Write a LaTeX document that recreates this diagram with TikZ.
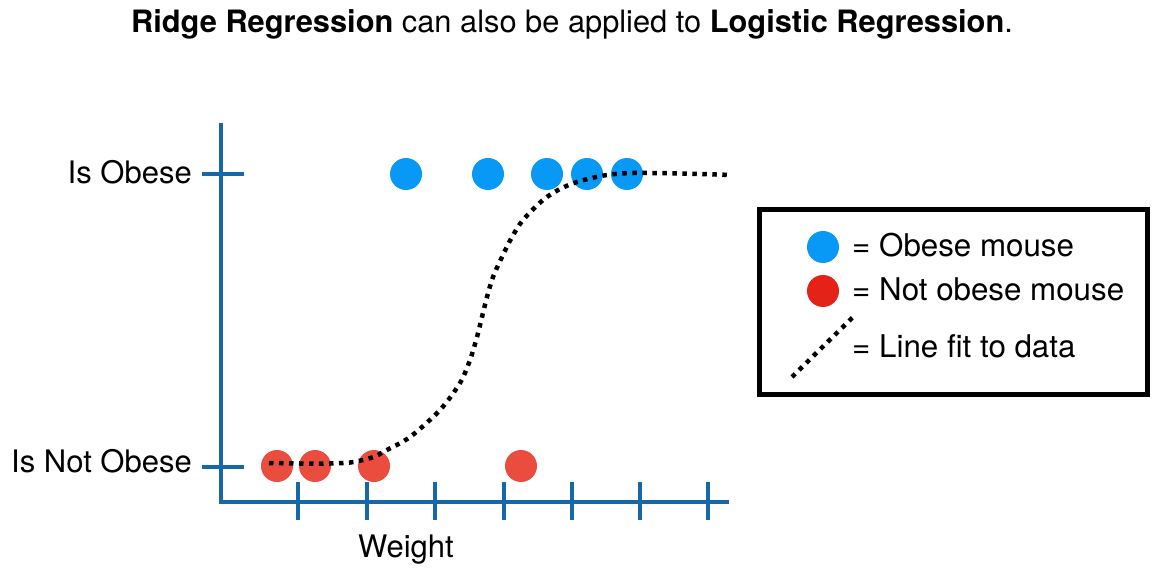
\documentclass[tikz,border=0pt]{standalone}
\usepackage{fontspec}
\setmainfont{TeX Gyre Heros}
\definecolor{axisblue}{RGB}{22,104,170}
\definecolor{dotblue}{RGB}{8,152,246}
\definecolor{dotred}{RGB}{234,76,62}
\definecolor{legred}{RGB}{228,34,24}
\tikzset{
  axisline/.style={draw=axisblue, line width=4.5pt},
  bluedot/.style={circle, fill=dotblue, minimum size=32pt, inner sep=0pt},
  reddot/.style={circle, fill=dotred, minimum size=32pt, inner sep=0pt},
  legreddot/.style={circle, fill=legred, minimum size=32pt, inner sep=0pt},
  fitline/.style={draw=black, line width=4.5pt, dash pattern=on 4.5pt off 5.5pt},
  ttl/.style={inner sep=0pt, font=\fontsize{30.8}{36}\selectfont},
  lbl/.style={inner sep=0pt, font=\fontsize{31}{36}\selectfont},
  legtxt/.style={inner sep=0pt, font=\fontsize{31.3}{36}\selectfont, anchor=base west},
}
\begin{document}
\begin{tikzpicture}[x=1pt, y=-1pt]
\useasboundingbox (0,0) rectangle (1168,583);
% title
\node[ttl, anchor=base] (title) at (572,33) {\textbf{Ridge Regression} can also be applied to \textbf{Logistic Regression}.};
% axes
\coordinate (ytop) at (221,123);
\coordinate (origin) at (221,502);
\coordinate (xend) at (729,502);
\draw[axisline, line join=miter] (ytop) -- (origin) -- (xend);
% y ticks
\coordinate (yt1a) at (202,174); \coordinate (yt1b) at (244,174);
\coordinate (yt2a) at (202,467); \coordinate (yt2b) at (244,467);
\draw[axisline] (yt1a) -- (yt1b);
\draw[axisline] (yt2a) -- (yt2b);
% x ticks
\foreach \i/\xx in {1/298,2/367,3/435,4/504,5/572,6/640,7/708}{
  \coordinate (xt\i a) at (\xx,482);
  \coordinate (xt\i b) at (\xx,520);
  \draw[axisline] (xt\i a) -- (xt\i b);
}
% labels
\node[lbl, anchor=base east] (isob) at (192,184) {Is Obese};
\node[lbl, anchor=base east] (isnot) at (192,472) {Is Not Obese};
\node[lbl, anchor=base] (weight) at (406,557) {Weight};
% data
\node[bluedot] (b1) at (406,174) {};
\node[bluedot] (b2) at (488,174) {};
\node[bluedot] (b3) at (547,174) {};
\node[bluedot] (b4) at (587,174) {};
\node[bluedot] (b5) at (627,174) {};
\node[reddot] (r1) at (277,466) {};
\node[reddot] (r2) at (315,466) {};
\node[reddot] (r3) at (374,466) {};
\node[reddot] (r4) at (521,466) {};
% fitted curve
\draw[fitline] plot[smooth, tension=0.5] coordinates {
 (269,463) (300,463.5) (330,463.5) (350,462.5) (363,460) (375,456.5) (384,451.5)
 (410,437) (440,410) (460,383) (470,360) (477,337) (482,317) (487,297) (493,277)
 (502,257) (512,237) (523,220) (543,200) (560,189) (580,181) (607,175) (633,173)
 (680,173.5) (732,175)};
% legend
\node[draw=black, line width=5pt, minimum width=388pt, minimum height=185pt, inner sep=0pt] (legend) at (953.5,302) {};
\node[bluedot] (lb) at (823,247) {};
\node[legreddot] (lr) at (823,291) {};
\coordinate (ls) at (792,377);
\coordinate (le) at (853,317);
\draw[fitline] (ls) -- (le);
\node[legtxt] (t1) at (852,256) {= Obese mouse};
\node[legtxt] (t2) at (852,300) {= Not obese mouse};
\node[legtxt] (t3) at (852,357) {= Line fit to data};
\end{tikzpicture}
\end{document}
